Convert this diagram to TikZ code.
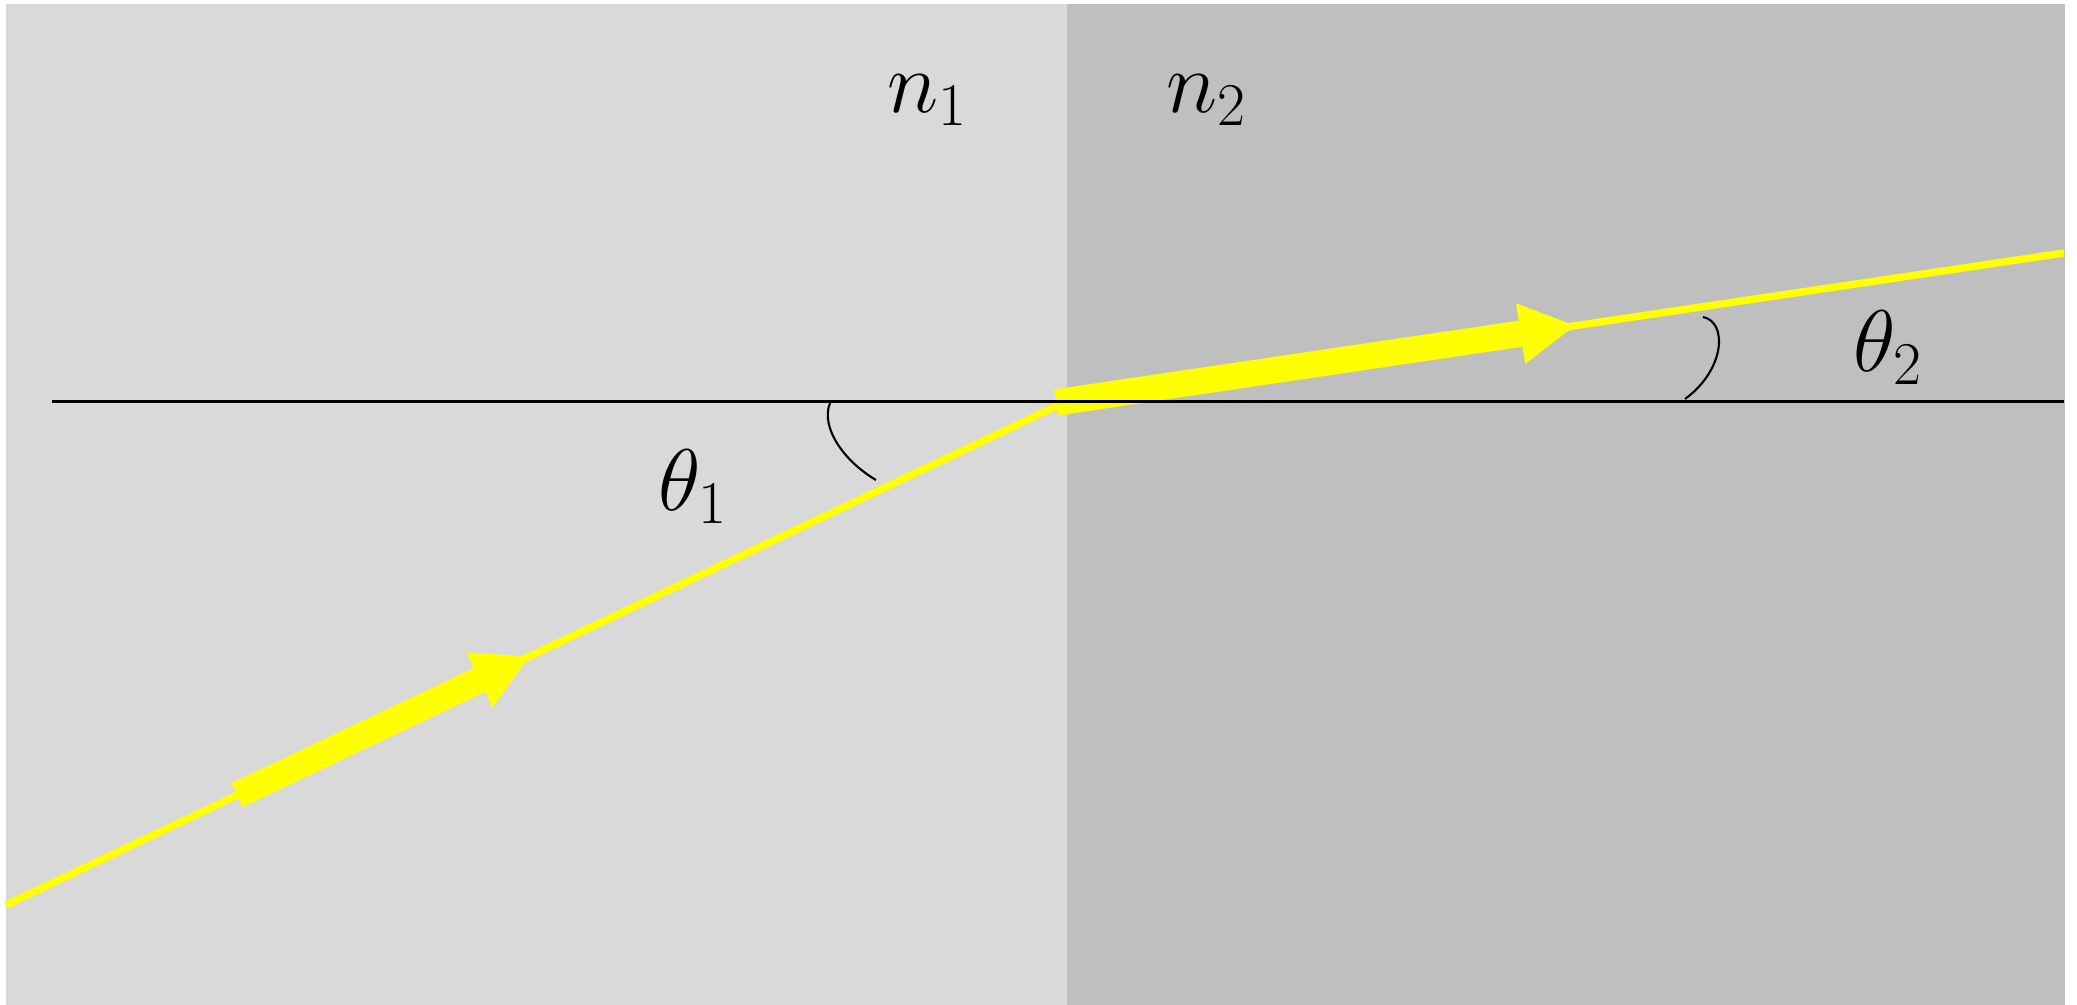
\documentclass[tikz,border=0pt]{standalone}
\usetikzlibrary{arrows.meta}
\definecolor{mediumA}{HTML}{D9D9D9}
\definecolor{mediumB}{HTML}{BFBFBF}
\definecolor{rayyellow}{HTML}{FFFF00}
\tikzset{
  ray/.style={draw=rayyellow, line width=2.1pt},
  beam/.style={draw=rayyellow, line width=7.5pt, -{Triangle[length=5.6mm,width=5.7mm,fill=rayyellow]}, shorten >=0pt},
  normalline/.style={draw=black, line width=0.85pt},
  anglearc/.style={draw=black, line width=0.6pt},
  lbl/.style={inner sep=0pt, font=\fontsize{27}{32}\selectfont}
}
\begin{document}
\begin{tikzpicture}
\useasboundingbox (0,0) rectangle (20.77,10.05);
\fill[white] (0,0) rectangle (20.77,10.05);
% media
\fill[mediumA] (0.06,0) rectangle (10.67,10.01);
\fill[mediumB] (10.67,0) rectangle (20.65,10.01);
% coordinates
\coordinate (A) at (0.06,1.00);
\coordinate (O) at (10.66,6.035);
\coordinate (B) at (20.64,7.52);
\coordinate (L) at (0.52,6.035);
\coordinate (R) at (20.64,6.035);
\coordinate (b1s) at (2.37,2.10);
\coordinate (b1e) at (5.30,3.49);
\coordinate (b2s) at (10.56,6.025);
\coordinate (b2e) at (15.76,6.795);
% rays
\draw[ray] (A) -- (O);
\draw[ray] (O) -- (B);
\draw[beam] (b1s) -- (b1e);
\draw[beam] (b2s) -- (b2e);
% normal line
\draw[normalline] (L) -- (R);
% angle arcs
\coordinate (a1s) at (8.30,6.02);
\coordinate (a1e) at (8.76,5.25);
\draw[anglearc] (a1s) .. controls (8.20,5.77) and (8.45,5.43) .. (a1e);
\coordinate (a2s) at (17.03,6.88);
\coordinate (a2e) at (16.85,6.06);
\draw[anglearc] (a2s) .. controls (17.28,6.83) and (17.25,6.35) .. (a2e);
% labels
\node[lbl] (n1) at (9.28,9.05) {$n_1$};
\node[lbl] (n2) at (12.07,9.05) {$n_2$};
\node[lbl] (t1) at (6.93,5.18) {$\theta_1$};
\node[lbl] (t2) at (18.88,6.57) {$\theta_2$};
\end{tikzpicture}
\end{document}
